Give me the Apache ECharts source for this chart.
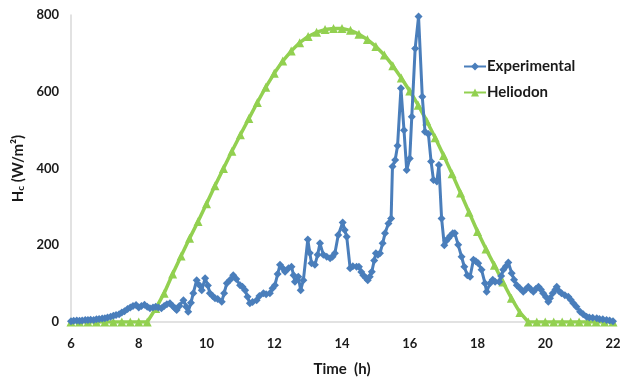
<!DOCTYPE html>
<html><head><meta charset="utf-8">
<script src="https://cdn.jsdelivr.net/npm/echarts@6/dist/echarts.min.js"></script>
<style>html,body{margin:0;padding:0;background:#fff}#c{width:632px;height:383px}</style>
</head><body><div id="c"></div>
<script>
const xTicks = [6, 8, 10, 12, 14, 16, 18, 20, 22];
const yTicks = [0, 200, 400, 600, 800];

const expT = [6.00,6.08,6.17,6.25,6.33,6.42,6.50,6.58,6.67,6.75,6.83,6.92,7.00,7.08,7.17,7.25,7.33,7.42,7.50,7.58,7.67,7.75,7.83,7.92,8.00,8.08,8.17,8.25,8.33,8.42,8.50,8.58,8.67,8.75,8.83,8.92,9.00,9.08,9.12,9.20,9.32,9.40,9.46,9.54,9.61,9.71,9.80,9.86,9.96,10.04,10.10,10.18,10.25,10.33,10.45,10.52,10.60,10.70,10.79,10.88,10.99,11.06,11.14,11.21,11.28,11.36,11.48,11.56,11.68,11.76,11.87,11.95,12.02,12.10,12.17,12.25,12.32,12.42,12.51,12.57,12.61,12.71,12.78,12.86,12.99,13.05,13.10,13.20,13.28,13.35,13.45,13.55,13.65,13.72,13.79,13.89,14.02,14.08,14.14,14.24,14.32,14.43,14.50,14.57,14.63,14.70,14.76,14.82,14.88,14.95,15.00,15.06,15.12,15.20,15.27,15.37,15.45,15.49,15.57,15.64,15.74,15.83,15.91,16.00,16.06,16.16,16.26,16.37,16.45,16.55,16.63,16.70,16.80,16.86,16.94,17.02,17.08,17.14,17.20,17.27,17.33,17.43,17.53,17.61,17.70,17.78,17.88,17.95,18.02,18.12,18.22,18.27,18.37,18.45,18.52,18.64,18.70,18.76,18.84,18.91,19.01,19.08,19.16,19.25,19.35,19.42,19.50,19.58,19.65,19.72,19.80,19.87,19.94,20.02,20.09,20.14,20.22,20.30,20.34,20.41,20.48,20.58,20.68,20.75,20.83,20.92,21.03,21.12,21.22,21.30,21.40,21.52,21.60,21.70,21.81,21.90,22.00];
const expV = [2,3,4,3,4,5,5,6,5,7,8,9,10,12,14,16,18,20,25,28,34,38,42,44,38,42,45,40,36,38,40,38,36,42,46,49,42,35,31,42,57,40,27,50,75,109,95,83,114,95,75,68,62,60,53,75,101,110,122,112,96,92,83,66,49,52,57,68,75,72,75,88,96,125,149,140,131,140,144,122,105,118,83,109,215,180,153,149,175,205,175,170,166,170,179,227,259,240,222,140,145,144,144,130,122,115,109,118,131,160,179,175,179,205,231,257,270,405,422,459,609,500,396,426,535,713,796,587,496,490,418,370,366,409,270,200,212,218,225,231,231,201,170,144,122,118,162,158,153,136,101,79,101,110,105,105,120,136,145,155,127,110,96,88,79,85,92,85,79,86,92,85,75,65,53,62,75,85,92,80,75,70,66,58,49,40,27,20,14,12,11,10,8,7,5,4,2];

const helT = [6.00,6.25,6.50,6.75,7.00,7.25,7.50,7.75,8.00,8.25,8.50,8.75,9.00,9.25,9.50,9.75,10.00,10.25,10.50,10.75,11.00,11.25,11.50,11.75,12.00,12.25,12.50,12.75,13.00,13.25,13.50,13.75,14.00,14.25,14.50,14.75,15.00,15.25,15.50,15.75,16.00,16.25,16.50,16.75,17.00,17.25,17.50,17.75,18.00,18.25,18.50,18.75,19.00,19.25,19.50,19.75,20.00,20.25,20.50,20.75,21.00,21.25,21.50,21.75,22.00];
const helV = [0,0,0,0,0,0,0,0,0,0,35,75,125,172,218,262,308,355,400,445,488,530,572,612,648,680,706,728,744,755,762,765,765,760,750,736,718,696,668,636,602,565,524,480,434,386,336,286,236,190,148,104,62,25,0,0,0,0,0,0,0,0,0,0,0];

const BLUE = '#4A7EBB';
const GREEN = '#92D050';
const FONT = 'Lato, "Liberation Sans", sans-serif';
const TXT = '#1a1a1a';

const chart = echarts.init(document.getElementById('c'), null, {renderer: 'canvas'});
chart.setOption({
  animation: false,
  backgroundColor: '#fff',
  grid: {left: 71, right: 19, top: 15, bottom: 61, containLabel: false},
  legend: {
    orient: 'vertical', left: 458, top: 54, itemGap: 11, itemWidth: 22, itemHeight: 10,
    textStyle: {fontFamily: FONT, fontWeight: 'bold', fontSize: 15, color: TXT, padding: [0,0,0,-4]},
    data: ['Experimental', 'Heliodon']
  },
  xAxis: {
    type: 'value', min: xTicks[0], max: xTicks[xTicks.length-1], interval: 2,
    name: 'Time  (h)', nameLocation: 'middle', nameGap: 40,
    nameTextStyle: {fontFamily: FONT, fontWeight: 'bold', fontSize: 15, color: TXT},
    axisLine: {show: true, lineStyle: {color: '#d9d9d9', width: 1.5}},
    axisTick: {show: false}, splitLine: {show: false},
    axisLabel: {fontFamily: FONT, fontWeight: 'bold', fontSize: 13, color: TXT, margin: 15}
  },
  yAxis: {
    type: 'value', min: yTicks[0], max: yTicks[yTicks.length-1], interval: 200,
    name: '{h|H}{s|c}{t| (W/m²)}', nameLocation: 'middle', nameGap: 45, nameRotate: 90,
    nameTextStyle: {
      fontFamily: FONT, fontWeight: 'bold', fontSize: 15, color: TXT,
      rich: {
        h: {fontFamily: FONT, fontWeight: 'bold', fontSize: 15, color: TXT, verticalAlign: 'bottom', lineHeight: 18},
        s: {fontFamily: FONT, fontWeight: 'bold', fontSize: 10, color: TXT, verticalAlign: 'bottom', lineHeight: 14},
        t: {fontFamily: FONT, fontWeight: 'bold', fontSize: 15, color: TXT, verticalAlign: 'bottom', lineHeight: 18}
      }
    },
    axisLine: {show: true, lineStyle: {color: '#d9d9d9', width: 1.5}},
    axisTick: {show: false}, splitLine: {show: false},
    axisLabel: {fontFamily: FONT, fontWeight: 'bold', fontSize: 13, color: TXT, margin: 12}
  },
  series: [
    {
      name: 'Experimental', type: 'line', data: expT.map((t, i) => [t, expV[i]]),
      symbol: 'diamond', symbolSize: 8, showAllSymbol: true,
      lineStyle: {color: BLUE, width: 3}, itemStyle: {color: BLUE}, z: 3
    },
    {
      name: 'Heliodon', type: 'line', data: helT.map((t, i) => [t, helV[i]]),
      symbol: 'triangle', symbolSize: 9, showAllSymbol: true,
      lineStyle: {color: GREEN, width: 3.5}, itemStyle: {color: GREEN}, z: 2
    }
  ]
});
</script></body></html>
